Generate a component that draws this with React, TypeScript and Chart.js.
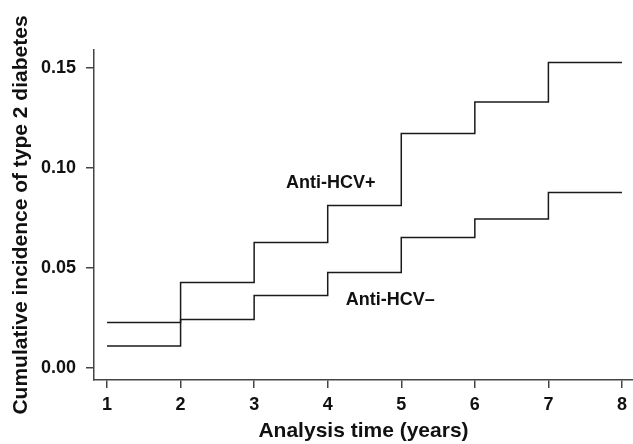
import React, { useEffect, useRef } from "react";
import { Chart, registerables } from "chart.js";

Chart.register(...registerables);

const years = [1, 2, 3, 4, 5, 6, 7, 8];
const hcvPositive = [0.0227, 0.0427, 0.0628, 0.0812, 0.1173, 0.133, 0.1528, 0.1528];
const hcvNegative = [0.011, 0.0243, 0.0363, 0.0477, 0.0653, 0.0745, 0.0878, 0.0878];
const yTicks = [0, 0.05, 0.1, 0.15];
const xTicks = [1, 2, 3, 4, 5, 6, 7, 8];
const labelTexts = ["Anti-HCV+", "Anti-HCV–"];
const labelX = [4.04, 4.85];
const labelY = [0.0925, 0.034];

const FONT = "'Liberation Sans', Arial, Helvetica, sans-serif";

const labelPlugin = {
  id: "curveLabels",
  afterDatasetsDraw(chart: any) {
    const { ctx, scales } = chart;
    ctx.save();
    ctx.font = `bold 18px ${FONT}`;
    ctx.fillStyle = "#111";
    ctx.textAlign = "center";
    ctx.textBaseline = "middle";
    labelTexts.forEach((t, i) => {
      ctx.fillText(t, scales.x.getPixelForValue(labelX[i]), scales.y.getPixelForValue(labelY[i]));
    });
    ctx.restore();
  },
};

export default function App() {
  const ref = useRef<HTMLCanvasElement>(null);
  useEffect(() => {
    if (!ref.current) return;
    const mk = (vals: number[]) => years.map((x, i) => ({ x, y: vals[i] }));
    const chart = new Chart(ref.current, {
      type: "line",
      data: {
        datasets: [
          { label: "Anti-HCV+", data: mk(hcvPositive), stepped: "before", borderColor: "#1a1a1a", borderWidth: 1.5, pointRadius: 0, fill: false },
          { label: "Anti-HCV–", data: mk(hcvNegative), stepped: "before", borderColor: "#1a1a1a", borderWidth: 1.5, pointRadius: 0, fill: false },
        ],
      },
      options: {
        responsive: false,
        animation: false,
        layout: { padding: { top: 50, right: 0, left: 0, bottom: 0 } },
        plugins: { legend: { display: false }, tooltip: { enabled: false } },
        scales: {
          x: {
            type: "linear",
            min: 0.823,
            max: 8.15,
            afterBuildTicks: (s: any) => { s.ticks = xTicks.map((v) => ({ value: v })); },
            afterFit: (s: any) => { s.height = 64; },
            grid: { display: true, drawOnChartArea: false, drawTicks: true, tickLength: 8, color: "#444", lineWidth: 1.5 },
            border: { display: true, color: "#444", width: 1.5 },
            ticks: { color: "#111", font: { family: FONT, size: 18, weight: "bold" }, padding: 6, maxRotation: 0, autoSkip: false, callback: (v: any) => String(v) },
            title: { display: true, text: "Analysis time (years)", color: "#111", font: { family: FONT, size: 21, weight: "bold" }, padding: { top: 0, bottom: 0 } },
          },
          y: {
            type: "linear",
            min: -0.006,
            max: 0.159,
            afterBuildTicks: (s: any) => { s.ticks = yTicks.map((v) => ({ value: v })); },
            afterFit: (s: any) => { s.width = 94; },
            grid: { display: true, drawOnChartArea: false, drawTicks: true, tickLength: 8, color: "#444", lineWidth: 1.5 },
            border: { display: true, color: "#444", width: 1.5 },
            ticks: { color: "#111", font: { family: FONT, size: 18, weight: "bold" }, padding: 10, autoSkip: false, callback: (v: any) => Number(v).toFixed(2) },
            title: { display: true, text: "Cumulative incidence of type 2 diabetes", color: "#111", font: { family: FONT, size: 21, weight: "bold" }, padding: { top: 9, bottom: 0 } },
          },
        },
      },
      plugins: [labelPlugin],
    });
    return () => chart.destroy();
  }, []);
  return (
    <div style={{ position: "fixed", left: 0, top: 0, width: 633, height: 444, background: "#fff" }}>
      <canvas ref={ref} width={633} height={444} />
    </div>
  );
}
